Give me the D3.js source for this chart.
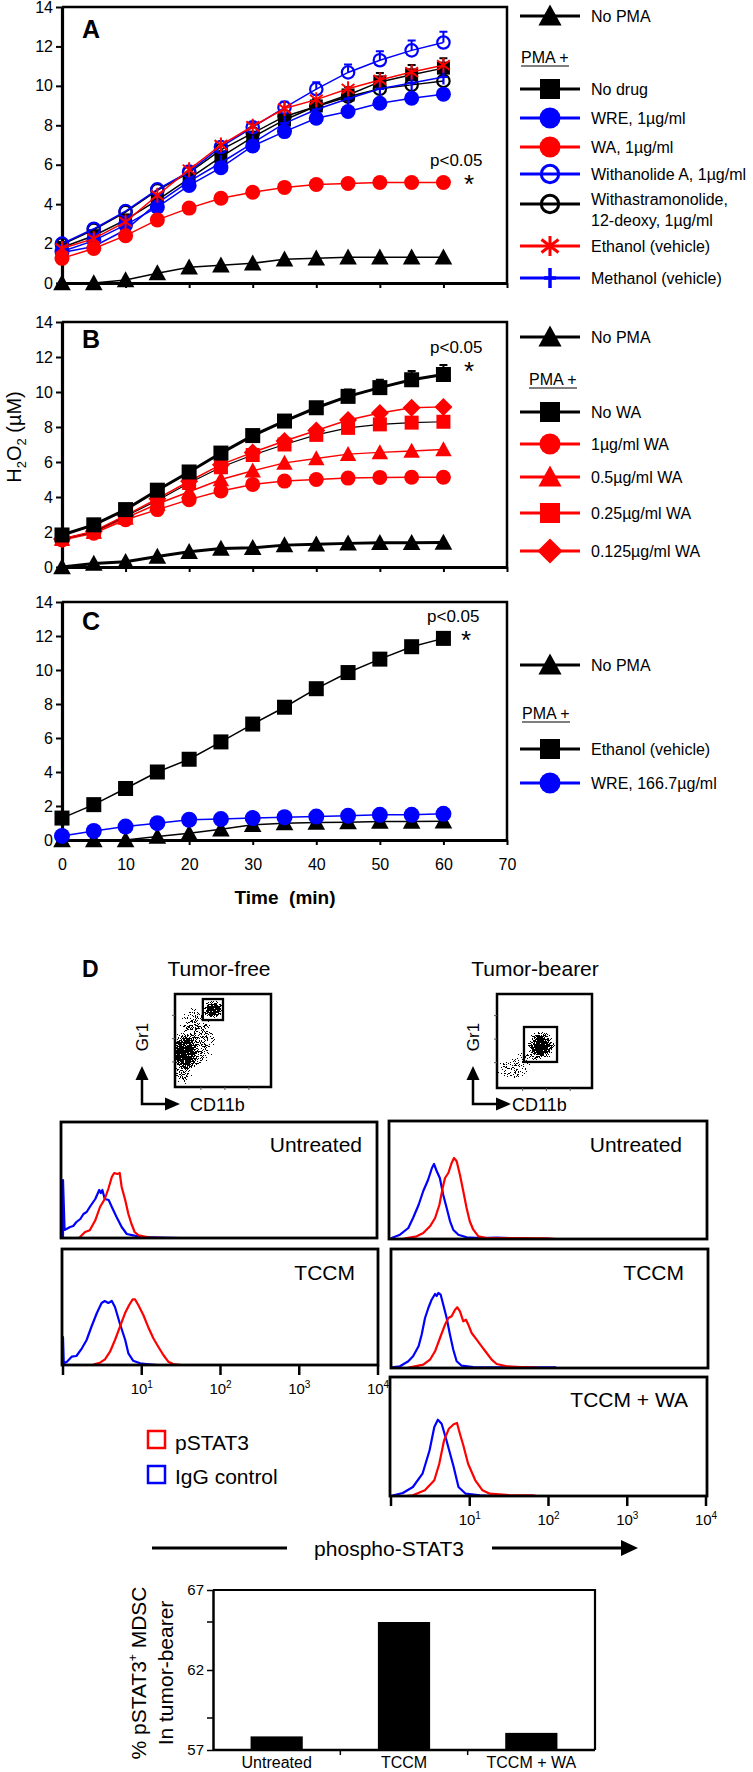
<!DOCTYPE html>
<html><head><meta charset="utf-8">
<script src="https://cdn.jsdelivr.net/npm/d3@7"></script>
<style>
body{margin:0;background:#fff}
svg{display:block}
text{font-family:"Liberation Sans",Arial,Helvetica,sans-serif;fill:#000}
</style>
</head><body>
<svg id="fig" width="753" height="1772"></svg>
<script>
// ================= DATA =================
const times = [0,5,10,15,20,25,30,35,40,45,50,55,60];
const yTicks = [0,2,4,6,8,10,12,14];
const xTicks = [0,10,20,30,40,50,60,70];

// Panel A (H2O2, µM)
const noPMA_A    = [0,0,0.15,0.5,0.8,0.9,1.0,1.2,1.25,1.3,1.3,1.3,1.3];
const noDrug_A   = [1.8,2.4,3.2,4.2,5.3,6.4,7.4,8.27,8.98,9.54,10.2,10.56,10.9];
const wre_A      = [1.6,2.15,2.95,3.85,4.95,5.85,6.95,7.68,8.36,8.7,9.12,9.37,9.58];
const wa_A       = [1.25,1.75,2.4,3.2,3.8,4.3,4.6,4.85,5.0,5.05,5.1,5.1,5.1];
const withA_A    = [2.0,2.75,3.65,4.75,5.65,6.9,7.9,8.9,9.83,10.68,11.3,11.8,12.2];
const withas_A   = [1.95,2.7,3.6,4.7,5.6,6.75,7.6,8.45,8.95,9.45,9.85,10.05,10.25];
const ethanol_A  = [1.75,2.25,3.1,4.45,5.75,7.0,7.95,8.85,9.3,9.85,10.3,10.7,11.05];
const methanol_A = [1.55,1.85,2.7,4.05,5.15,6.1,7.1,8.1,8.8,9.35,9.85,10.15,10.45];
const errNoDrug_A = [0,0,0,0,0,0,0.2,0.3,0.35,0.4,0.45,0.5,0.5];
const errWithA_A  = [0,0,0,0,0,0,0.2,0.3,0.35,0.4,0.45,0.5,0.55];

// Panel B
const noPMA_B  = [0,0.2,0.3,0.6,0.87,1.06,1.1,1.25,1.3,1.35,1.38,1.38,1.4];
const noWA_B   = [1.83,2.41,3.28,4.39,5.43,6.51,7.51,8.34,9.1,9.75,10.25,10.7,11.0];
const wa1_B    = [1.54,1.93,2.7,3.28,3.85,4.34,4.72,4.91,5.0,5.08,5.12,5.13,5.13];
const wa05_B   = [1.6,2.0,2.8,3.6,4.3,5.0,5.5,5.95,6.2,6.45,6.55,6.63,6.72];
const wa025_B  = [1.6,2.0,2.9,3.8,4.8,5.7,6.4,7.0,7.55,7.95,8.15,8.25,8.3];
const wa0125_B = [1.6,2.05,2.95,3.9,4.9,5.85,6.55,7.2,7.8,8.4,8.8,9.1,9.15];
const errNoWA_B = [0,0,0,0,0,0,0,0.2,0.3,0.4,0.45,0.5,0.55];

// Panel C
const noPMA_C   = [0,0,0,0.2,0.4,0.63,0.89,0.99,1.03,1.05,1.09,1.09,1.1];
const ethanol_C = [1.29,2.08,3.03,4.0,4.75,5.77,6.82,7.81,8.9,9.85,10.64,11.37,11.86];
const wre_C     = [0.24,0.53,0.79,0.99,1.19,1.23,1.29,1.34,1.38,1.42,1.48,1.48,1.54];

// Legend labels
const legendA = ["No PMA","No drug","WRE, 1µg/ml","WA, 1µg/ml","Withanolide A, 1µg/ml","Withastramonolide,|12-deoxy, 1µg/ml","Ethanol (vehicle)","Methanol (vehicle)"];
const legendB = ["No PMA","No WA","1µg/ml WA","0.5µg/ml WA","0.25µg/ml WA","0.125µg/ml WA"];
const legendC = ["No PMA","Ethanol (vehicle)","WRE, 166.7µg/ml"];

// Panel D: flow cytometry histograms [log10 fluorescence, events]
const hL_unt_igg = [[0,0],[0,58],[0.02,8],[0.09,11],[0.13,12],[0.17,16],[0.22,19],[0.26,24],[0.3,26],[0.34,31],[0.41,39],[0.46,48],[0.48,45],[0.5,48],[0.53,39],[0.58,38],[0.62,31],[0.68,21],[0.745,11],[0.81,4],[0.89,2.7],[0.98,1],[1.23,0.5],[1.5,0]];
const hL_unt_p   = [[0.2,0],[0.216,1],[0.28,6],[0.34,7.7],[0.41,17.7],[0.47,31],[0.53,39],[0.575,49],[0.62,61],[0.65,65],[0.69,64],[0.72,65],[0.745,51],[0.79,38],[0.83,24],[0.87,14],[0.91,6],[0.96,2.7],[1.02,1.7],[1.1,0.5],[1.3,0]];
const hL_tccm_igg = [[0,0],[0,28],[0.01,1.7],[0.05,3.3],[0.11,8.3],[0.17,9],[0.24,16.7],[0.3,25],[0.36,38],[0.43,52],[0.49,62],[0.53,64],[0.575,62],[0.62,64],[0.66,58],[0.72,42],[0.79,25],[0.83,11.7],[0.89,4.3],[0.98,1.7],[1.06,1],[1.2,0]];
const hL_tccm_p   = [[0.38,0],[0.406,1],[0.47,2.3],[0.533,5.7],[0.597,13.3],[0.66,25],[0.724,38.3],[0.787,51.7],[0.84,60],[0.885,65.7],[0.914,65.7],[0.956,60],[1.02,50],[1.08,38.3],[1.147,26.7],[1.21,18.3],[1.274,10],[1.337,3.3],[1.4,1],[1.5,0]];
const hR_unt_igg = [[0,0],[0.008,1],[0.114,4.3],[0.22,11],[0.28,21],[0.35,34],[0.41,48],[0.47,59],[0.52,71],[0.546,75],[0.58,68],[0.62,61],[0.664,44],[0.707,31],[0.75,17.7],[0.79,9.3],[0.855,4.3],[0.96,1.7],[1.13,1],[1.34,1.3],[1.55,0.7],[1.8,0]];
const hR_unt_p   = [[0.15,0],[0.2,1],[0.326,2.7],[0.41,6],[0.495,12.7],[0.56,21],[0.614,34],[0.656,51],[0.686,61],[0.728,66],[0.77,76],[0.8,81],[0.834,77.7],[0.876,64],[0.918,47.7],[0.96,31],[1.0,17.7],[1.045,9.3],[1.11,2.7],[1.215,1],[1.55,1],[1.98,0.7],[2.1,0]];
const hR_tccm_igg = [[0,0],[0.008,0.7],[0.114,1.7],[0.22,6.7],[0.28,11.7],[0.35,21.7],[0.389,33.3],[0.432,50],[0.474,60],[0.516,68.3],[0.559,74],[0.58,72],[0.601,75],[0.631,73.3],[0.664,63.3],[0.707,50],[0.749,33.3],[0.791,18.3],[0.834,6.7],[0.897,2.3],[1.045,1],[1.3,0.7],[1.765,0.7],[2.083,0.7],[2.1,0]];
const hR_tccm_p   = [[0.2,0],[0.241,0.7],[0.41,3.3],[0.495,8.3],[0.559,16.7],[0.622,30],[0.686,43.3],[0.728,50],[0.77,51.7],[0.813,58.3],[0.842,60.7],[0.876,56.7],[0.918,46.7],[0.952,48.3],[0.982,43.3],[1.024,35],[1.088,28.3],[1.151,21.7],[1.215,15],[1.278,8.3],[1.342,4],[1.469,1.7],[1.638,1],[1.85,0.3],[1.9,0]];
const hR_wa_igg = [[0,0],[0.033,0.7],[0.15,3],[0.278,9],[0.4,22.3],[0.49,45.7],[0.55,69],[0.595,76.3],[0.643,72.3],[0.704,55.7],[0.796,29],[0.857,9],[0.948,2.3],[1.13,0.7],[1.3,0]];
const hR_wa_p   = [[0.2,0],[0.278,0.7],[0.43,5.7],[0.55,15.7],[0.613,32.3],[0.674,55.7],[0.735,67.3],[0.796,71.7],[0.838,73],[0.875,62.3],[0.918,50.7],[0.979,32.3],[1.07,15.7],[1.162,5.7],[1.253,2.3],[1.497,1],[1.8,0.7],[1.85,0]];
const histTitles = ["Untreated","TCCM","Untreated","TCCM","TCCM + WA"];
const decades = [0,1,2,3,4];

// Scatter (CD11b vs Gr1) population clusters: centre/spread in plot units 0..1
const scatterFree  = [
  {cx:0.11,cy:0.36,rx:0.15,ry:0.21,d:1.0},
  {cx:0.09,cy:0.34,rx:0.10,ry:0.14,d:1.0},
  {cx:0.22,cy:0.53,rx:0.21,ry:0.35,d:0.42},
  {cx:0.08,cy:0.14,rx:0.10,ry:0.12,d:0.4},
  {cx:0.40,cy:0.83,rx:0.11,ry:0.10,d:1.0}
];
const scatterTumor = [
  {cx:0.46,cy:0.45,rx:0.15,ry:0.16,d:1.0},
  {cx:0.46,cy:0.45,rx:0.09,ry:0.10,d:0.9},
  {cx:0.17,cy:0.20,rx:0.18,ry:0.12,d:0.3},
  {cx:0.33,cy:0.32,rx:0.13,ry:0.09,d:0.25}
];
const gateFree  = [0.29,0.50,0.72,0.946];
const gateTumor = [0.284,0.632,0.277,0.649];

// Bar chart
const barCats = ["Untreated","TCCM","TCCM + WA"];
const barVals = [57.85,65.0,58.07];
const barTicks = [57,62,67];
const barMinor = [59,65];

// ================= DRAWING =================
const svg = d3.select('#fig');
const RED = '#ff0000', BLUE = '#0000ff', BLK = '#000';

function marker(g, t, x, y, s, c) {
  if (t === 'square') g.append('rect').attr('x', x - s/2).attr('y', y - s/2).attr('width', s).attr('height', s).attr('fill', c);
  else if (t === 'circle') g.append('circle').attr('cx', x).attr('cy', y).attr('r', s/2).attr('fill', c);
  else if (t === 'ocircle') g.append('circle').attr('cx', x).attr('cy', y).attr('r', s/2 - 1.3).attr('fill', 'none').attr('stroke', c).attr('stroke-width', s > 16 ? 3 : 2.2);
  else if (t === 'triangle') g.append('path').attr('d', `M${x},${y-0.55*s}L${x+0.55*s},${y+0.45*s}L${x-0.55*s},${y+0.45*s}Z`).attr('fill', c);
  else if (t === 'diamond') g.append('path').attr('d', `M${x},${y-0.6*s}L${x+0.6*s},${y}L${x},${y+0.6*s}L${x-0.6*s},${y}Z`).attr('fill', c);
  else if (t === 'star') { const r = s/2; g.append('path').attr('d', `M${x},${y-r}V${y+r}M${x-r*0.85},${y-r*0.65}L${x+r*0.85},${y+r*0.65}M${x+r*0.85},${y-r*0.65}L${x-r*0.85},${y+r*0.65}`).attr('stroke', c).attr('stroke-width', s > 16 ? 3 : 2).attr('fill', 'none'); }
  else if (t === 'plus') { const r = s/2; g.append('path').attr('d', `M${x},${y-r}V${y+r}M${x-r*0.6},${y}H${x+r*0.6}`).attr('stroke', c).attr('stroke-width', s > 16 ? 3.5 : 2.2).attr('fill', 'none'); }
}

function text(g, x, y, str, size, opts = {}) {
  const t = g.append('text').attr('x', x).attr('y', y).attr('font-size', size).text(str);
  if (opts.anchor) t.attr('text-anchor', opts.anchor);
  if (opts.weight) t.attr('font-weight', opts.weight);
  if (opts.fill) t.style('fill', opts.fill);
  return t;
}

function linePanel(p) {
  const g = svg.append('g');
  const x = d3.scaleLinear().domain([0, 70]).range([62, 507]);
  const y = d3.scaleLinear().domain([0, 14]).range([p.y0, p.y14]);
  g.append('path').attr('d', `M62,${p.y14}H507V${p.y0}`).attr('fill', 'none').attr('stroke', BLK).attr('stroke-width', 2.5);
  const ya = g.append('g').attr('transform', 'translate(62,0)')
    .call(d3.axisLeft(y).tickValues(yTicks).tickSize(6).tickSizeOuter(0).tickPadding(3));
  ya.attr('font-size', 16).attr('font-family', '"Liberation Sans",Arial,sans-serif');
  ya.select('.domain').attr('stroke-width', 3.2);
  ya.selectAll('.tick line').attr('stroke-width', 2);
  const xa = g.append('g').attr('transform', `translate(0,${p.y0})`)
    .call(d3.axisBottom(x).tickValues(xTicks).tickSize(5).tickSizeOuter(0).tickPadding(14)
      .tickFormat(p.labels ? d3.format('d') : () => ''));
  xa.attr('font-size', 16).attr('font-family', '"Liberation Sans",Arial,sans-serif');
  xa.select('.domain').attr('stroke-width', 3.2);
  xa.selectAll('.tick line').attr('stroke-width', 2);

  const line = d3.line().x((d, i) => x(times[i])).y(d => y(d));
  p.series.forEach(s => {
    g.append('path').datum(s.v).attr('d', line).attr('fill', 'none')
      .attr('stroke', s.lc || s.c).attr('stroke-width', s.lw || 1.5);
    if (s.err) s.v.forEach((v, i) => {
      const e = s.err[i]; if (!e) return;
      const xx = x(times[i]), y1 = y(v), y2 = y(v + e);
      g.append('path').attr('d', `M${xx},${y1}V${y2}M${xx-4},${y2}H${xx+4}`).attr('stroke', s.ec || s.c).attr('stroke-width', 2).attr('fill', 'none');
    });
    s.v.forEach((v, i) => marker(g, s.m, x(times[i]), y(v), s.size || 14, s.c));
  });
  text(g, 82, p.letterY, p.letter, 25, {weight: 'bold'});
  text(g, p.pX, p.pY, 'p<0.05', 17);
  text(g, p.pX + 34, p.pY + 27, '*', 26);
  // legend
  p.legend.forEach(l => {
    if (l.header) {
      text(g, l.x, l.y + 6, 'PMA +', 16);
      g.append('line').attr('x1', l.x).attr('x2', l.x + 48).attr('y1', l.y + 9).attr('y2', l.y + 9).attr('stroke', BLK).attr('stroke-width', 1.2);
      return;
    }
    g.append('line').attr('x1', 520).attr('x2', 580).attr('y1', l.y).attr('y2', l.y).attr('stroke', l.c).attr('stroke-width', 3);
    marker(g, l.m, 550, l.y, l.s || 20, l.c);
    const parts = l.label.split('|');
    parts.forEach((t, k) => text(g, 591, l.y + 6 - (parts.length - 1) * 5 + k * 21, t, 16));
  });
}

// Panel A
linePanel({
  y0: 283, y14: 7, letter: 'A', letterY: 38, pX: 430, pY: 166, labels: false,
  series: [
    {v: noPMA_A, m: 'triangle', c: BLK, size: 16},
    {v: withas_A, m: 'ocircle', c: BLK, size: 15},
    {v: noDrug_A, m: 'square', c: BLK, size: 13, err: errNoDrug_A},
    {v: wre_A, m: 'circle', c: BLUE, size: 15},
    {v: methanol_A, m: 'plus', c: BLUE, size: 15},
    {v: withA_A, m: 'ocircle', c: BLUE, size: 15, err: errWithA_A},
    {v: wa_A, m: 'circle', c: RED, size: 15},
    {v: ethanol_A, m: 'star', c: RED, size: 15}
  ],
  legend: [
    {y: 16, label: legendA[0], m: 'triangle', c: BLK, s: 21},
    {header: true, x: 521, y: 57},
    {y: 89, label: legendA[1], m: 'square', c: BLK, s: 20},
    {y: 118, label: legendA[2], m: 'circle', c: BLUE, s: 21},
    {y: 147, label: legendA[3], m: 'circle', c: RED, s: 21},
    {y: 174, label: legendA[4], m: 'ocircle', c: BLUE, s: 20},
    {y: 204, label: legendA[5], m: 'ocircle', c: BLK, s: 20},
    {y: 246, label: legendA[6], m: 'star', c: RED, s: 20},
    {y: 278, label: legendA[7], m: 'plus', c: BLUE, s: 20}
  ]
});

// Panel B
linePanel({
  y0: 567, y14: 322, letter: 'B', letterY: 348, pX: 430, pY: 353, labels: false,
  series: [
    {v: noPMA_B, m: 'triangle', c: BLK, size: 16, lw: 3},
    {v: wa1_B, m: 'circle', c: RED, size: 15},
    {v: wa05_B, m: 'triangle', c: RED, size: 15},
    {v: wa025_B, m: 'square', c: RED, size: 14, lc: BLK, lw: 1.2},
    {v: wa0125_B, m: 'diamond', c: RED, size: 15},
    {v: noWA_B, m: 'square', c: BLK, size: 15, lw: 3, err: errNoWA_B}
  ],
  legend: [
    {y: 337, label: legendB[0], m: 'triangle', c: BLK, s: 21},
    {header: true, x: 529, y: 379},
    {y: 412, label: legendB[1], m: 'square', c: BLK, s: 20},
    {y: 444, label: legendB[2], m: 'circle', c: RED, s: 21},
    {y: 477, label: legendB[3], m: 'triangle', c: RED, s: 21},
    {y: 513, label: legendB[4], m: 'square', c: RED, s: 20},
    {y: 551, label: legendB[5], m: 'diamond', c: RED, s: 21}
  ]
});

// Panel C
linePanel({
  y0: 840, y14: 602, letter: 'C', letterY: 630, pX: 427, pY: 622, labels: true,
  series: [
    {v: noPMA_C, m: 'triangle', c: BLK, size: 16},
    {v: wre_C, m: 'circle', c: BLUE, size: 16},
    {v: ethanol_C, m: 'square', c: BLK, size: 15}
  ],
  legend: [
    {y: 665, label: legendC[0], m: 'triangle', c: BLK, s: 21},
    {header: true, x: 522, y: 713},
    {y: 749, label: legendC[1], m: 'square', c: BLK, s: 20},
    {y: 783, label: legendC[2], m: 'circle', c: BLUE, s: 21}
  ]
});

// Y axis title
const yt = svg.append('text').attr('transform', 'translate(21,437) rotate(-90)').attr('text-anchor', 'middle').attr('font-size', 20);
yt.append('tspan').text('H');
yt.append('tspan').attr('font-size', 13).attr('dy', 5).text('2');
yt.append('tspan').attr('dy', -5).text('O');
yt.append('tspan').attr('font-size', 13).attr('dy', 5).text('2');
yt.append('tspan').attr('dy', -5).text(' (µM)');
// X axis title
svg.append('text').attr('x', 285).attr('y', 904).attr('text-anchor', 'middle').attr('font-size', 19).attr('font-weight', 'bold').style('white-space', 'pre').text('Time  (min)');

// ================= PANEL D =================
const defs = svg.append('defs');
const grad = defs.append('radialGradient').attr('id', 'blob');
grad.append('stop').attr('offset', '0%').attr('stop-color', '#000').attr('stop-opacity', 1);
grad.append('stop').attr('offset', '55%').attr('stop-color', '#000').attr('stop-opacity', 0.85);
grad.append('stop').attr('offset', '100%').attr('stop-color', '#000').attr('stop-opacity', 0);
const flt = defs.append('filter').attr('id', 'speckle').attr('filterUnits', 'userSpaceOnUse')
  .attr('x', 0).attr('y', 900).attr('width', 753).attr('height', 250).attr('color-interpolation-filters', 'sRGB');
flt.append('feTurbulence').attr('type', 'fractalNoise').attr('baseFrequency', 1.1).attr('numOctaves', 2).attr('seed', 7).attr('result', 'noise');
flt.append('feColorMatrix').attr('in', 'noise').attr('type', 'matrix')
  .attr('values', '0 0 0 0 0  0 0 0 0 0  0 0 0 0 0  2.6 0 0 0 -0.85').attr('result', 'n');
flt.append('feComposite').attr('in', 'SourceGraphic').attr('in2', 'n').attr('operator', 'arithmetic')
  .attr('k1', 0).attr('k2', 1).attr('k3', -1).attr('k4', 0).attr('result', 'd');
const ct = flt.append('feComponentTransfer').attr('in', 'd');
['R', 'G', 'B'].forEach(ch => ct.append('feFunc' + ch).attr('type', 'linear').attr('slope', 0).attr('intercept', 0));
ct.append('feFuncA').attr('type', 'discrete').attr('tableValues', '0 1 1 1 1 1 1 1 1 1 1 1 1 1 1 1 1 1 1 1');

function scatter(box, clusters, gate, id) {
  const g = svg.append('g');
  const sx = d3.scaleLinear().domain([0, 1]).range([box.x0, box.x1]);
  const sy = d3.scaleLinear().domain([0, 1]).range([box.y1, box.y0]);
  defs.append('clipPath').attr('id', id).append('rect').attr('x', box.x0).attr('y', box.y0).attr('width', box.x1 - box.x0).attr('height', box.y1 - box.y0);
  const cg = g.append('g').attr('clip-path', `url(#${id})`).append('g').attr('filter', 'url(#speckle)');
  clusters.forEach(c => cg.append('ellipse').attr('cx', sx(c.cx)).attr('cy', sy(c.cy))
    .attr('rx', sx(c.rx) - sx(0)).attr('ry', sy(0) - sy(c.ry)).attr('fill', 'url(#blob)').attr('opacity', c.d));
  g.append('rect').attr('x', box.x0).attr('y', box.y0).attr('width', box.x1 - box.x0).attr('height', box.y1 - box.y0)
    .attr('fill', 'none').attr('stroke', BLK).attr('stroke-width', 2.5);
  g.append('rect').attr('x', sx(gate[0])).attr('y', sy(gate[3])).attr('width', sx(gate[1]) - sx(gate[0])).attr('height', sy(gate[2]) - sy(gate[3]))
    .attr('fill', 'none').attr('stroke', BLK).attr('stroke-width', 2.3);
  [0.27, 0.52, 0.77].forEach(t => {
    g.append('line').attr('x1', box.x0 - 3).attr('x2', box.x0).attr('y1', sy(t)).attr('y2', sy(t)).attr('stroke', '#555').attr('stroke-width', 1);
    g.append('line').attr('x1', sx(t)).attr('x2', sx(t)).attr('y1', box.y1).attr('y2', box.y1 + 3).attr('stroke', '#555').attr('stroke-width', 1);
  });
  // axis arrows
  const ax = box.ax;
  g.append('path').attr('d', `M${ax},1078V1104H${ax + 25}`).attr('fill', 'none').attr('stroke', BLK).attr('stroke-width', 2.5);
  g.append('path').attr('d', `M${ax},1066L${ax + 6.5},1080L${ax - 6.5},1080Z`).attr('fill', BLK);
  g.append('path').attr('d', `M${ax + 38},1104L${ax + 23},1097.5L${ax + 23},1110.5Z`).attr('fill', BLK);
  svg.append('text').attr('transform', `translate(${ax + 6},1037) rotate(-90)`).attr('text-anchor', 'middle').attr('font-size', 17).text('Gr1');
  text(svg, box.x0 + 15, 1111, 'CD11b', 18);
}

text(svg, 82, 977, 'D', 23, {weight: 'bold'});
text(svg, 219, 976, 'Tumor-free', 21, {anchor: 'middle'});
text(svg, 535, 976, 'Tumor-bearer', 21, {anchor: 'middle'});
scatter({x0: 175, x1: 271, y0: 994, y1: 1087, ax: 142}, scatterFree, gateFree, 'clipFree');
scatter({x0: 497, x1: 592, y0: 994, y1: 1088, ax: 473}, scatterTumor, gateTumor, 'clipTumor');

function hist(f, igg, p, title, tx, ty, axisLabels) {
  const g = svg.append('g');
  const x = d3.scaleLog().domain([1, 1e4]).range([f.d0, f.d4]);
  const y = d3.scaleLinear().domain([0, 116]).range([f.y1, f.y1 - 116]);
  const line = d3.line().x(d => x(Math.pow(10, d[0]))).y(d => y(d[1]));
  g.append('path').datum(igg).attr('d', line).attr('fill', 'none').attr('stroke', BLUE).attr('stroke-width', 2.2).attr('stroke-linejoin', 'round');
  g.append('path').datum(p).attr('d', line).attr('fill', 'none').attr('stroke', RED).attr('stroke-width', 2.2).attr('stroke-linejoin', 'round');
  g.append('rect').attr('x', f.x0).attr('y', f.y0).attr('width', f.x1 - f.x0).attr('height', f.y1 - f.y0)
    .attr('fill', 'none').attr('stroke', BLK).attr('stroke-width', 2.8);
  text(g, tx, ty, title, 21, {anchor: 'end'});
  if (axisLabels) {
    decades.forEach(k => {
      const xx = x(Math.pow(10, k));
      g.append('line').attr('x1', xx).attr('x2', xx).attr('y1', f.y1).attr('y2', f.y1 + 10).attr('stroke', BLK).attr('stroke-width', 2.5);
      if (k > 0) {
        const t = g.append('text').attr('x', xx).attr('y', f.y1 + 29).attr('text-anchor', 'middle').attr('font-size', 15)
          .attr('font-family', '"Liberation Sans Narrow","Liberation Sans",Arial,sans-serif');
        t.append('tspan').text('10');
        t.append('tspan').attr('font-size', 10).attr('dy', -6).text(k);
      }
    });
  }
}

hist({x0: 61, x1: 377, y0: 1122, y1: 1238, d0: 63, d4: 378}, hL_unt_igg, hL_unt_p, histTitles[0], 362, 1152, false);
hist({x0: 62, x1: 378, y0: 1249, y1: 1365, d0: 63, d4: 378}, hL_tccm_igg, hL_tccm_p, histTitles[1], 355, 1280, true);
hist({x0: 389, x1: 707, y0: 1121, y1: 1239, d0: 391, d4: 706}, hR_unt_igg, hR_unt_p, histTitles[2], 682, 1152, false);
hist({x0: 391, x1: 708, y0: 1249, y1: 1368, d0: 391, d4: 706}, hR_tccm_igg, hR_tccm_p, histTitles[3], 684, 1280, false);
hist({x0: 390, x1: 707, y0: 1377, y1: 1496, d0: 391, d4: 706}, hR_wa_igg, hR_wa_p, histTitles[4], 688, 1407, true);

// legend for histograms
svg.append('rect').attr('x', 148).attr('y', 1431).attr('width', 17).attr('height', 17).attr('fill', 'none').attr('stroke', RED).attr('stroke-width', 2.5);
svg.append('rect').attr('x', 148).attr('y', 1466).attr('width', 17).attr('height', 17).attr('fill', 'none').attr('stroke', BLUE).attr('stroke-width', 2.5);
text(svg, 175, 1450, 'pSTAT3', 21);
text(svg, 175, 1484, 'IgG control', 21);

// phospho-STAT3 arrow
svg.append('line').attr('x1', 152).attr('x2', 287).attr('y1', 1548).attr('y2', 1548).attr('stroke', BLK).attr('stroke-width', 3);
svg.append('line').attr('x1', 492).attr('x2', 624).attr('y1', 1548).attr('y2', 1548).attr('stroke', BLK).attr('stroke-width', 3);
svg.append('path').attr('d', 'M638,1548L621,1540L621,1556Z').attr('fill', BLK);
text(svg, 389, 1556, 'phospho-STAT3', 21, {anchor: 'middle'});

// Bar chart
(function () {
  const g = svg.append('g');
  const x = d3.scaleBand().domain(barCats).range([213, 595]).paddingInner(0.59).paddingOuter(0.295);
  const y = d3.scaleLinear().domain([57, 67]).range([1750, 1590]);
  g.selectAll('rect.bar').data(barVals).enter().append('rect').attr('class', 'bar')
    .attr('x', (d, i) => x(barCats[i])).attr('width', x.bandwidth())
    .attr('y', d => y(d)).attr('height', d => y(57) - y(d)).attr('fill', BLK);
  g.append('path').attr('d', 'M213,1590H595V1750').attr('fill', 'none').attr('stroke', BLK).attr('stroke-width', 2.2);
  const ya = g.append('g').attr('transform', 'translate(213,0)')
    .call(d3.axisLeft(y).tickValues(barTicks).tickSize(6).tickSizeOuter(0).tickPadding(3));
  ya.attr('font-size', 15).attr('font-family', '"Liberation Sans Narrow","Liberation Sans",Arial,sans-serif');
  ya.select('.domain').attr('stroke-width', 2.5);
  ya.selectAll('.tick line').attr('stroke-width', 1.5);
  barMinor.forEach(v => g.append('line').attr('x1', 207).attr('x2', 213).attr('y1', y(v)).attr('y2', y(v)).attr('stroke', BLK).attr('stroke-width', 1.5));
  g.append('line').attr('x1', 213).attr('x2', 595).attr('y1', 1750).attr('y2', 1750).attr('stroke', BLK).attr('stroke-width', 2.5);
  const step = x.step();
  [1, 2].forEach(k => {
    const xx = 213 + step * k;
    g.append('line').attr('x1', xx).attr('x2', xx).attr('y1', 1750).attr('y2', 1755).attr('stroke', BLK).attr('stroke-width', 1.5);
  });
  barCats.forEach(c => text(g, x(c) + x.bandwidth() / 2, 1768, c, 16, {anchor: 'middle'}));
  const t1 = g.append('text').attr('transform', 'translate(146,1673) rotate(-90)').attr('text-anchor', 'middle').attr('font-size', 21);
  t1.append('tspan').text('% pSTAT3');
  t1.append('tspan').attr('font-size', 12).attr('dy', -9).text('+');
  t1.append('tspan').attr('dy', 9).text(' MDSC');
  g.append('text').attr('transform', 'translate(173,1673) rotate(-90)').attr('text-anchor', 'middle').attr('font-size', 21).text('In tumor-bearer');
})();
</script>
</body></html>
